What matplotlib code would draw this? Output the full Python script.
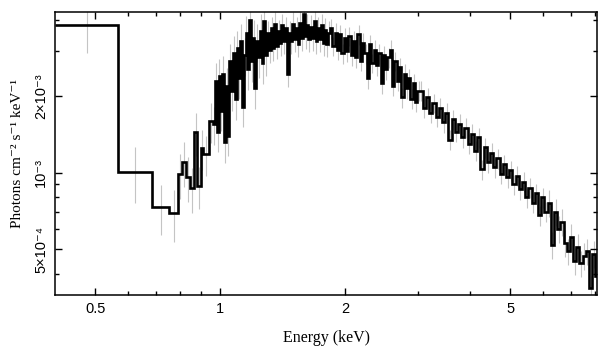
import numpy as np
import matplotlib.pyplot as plt
from matplotlib.ticker import FixedLocator, NullFormatter

# bin edges (keV)
edges_low = [0.400, 0.568, 0.686, 0.754, 0.792, 0.810, 0.828, 0.847, 0.866, 0.880, 0.900, 0.910, 0.941]
edges_1 = [0.962, 0.972, 0.981, 0.991, 1.001, 1.011, 1.021, 1.031, 1.042, 1.052, 1.063, 1.073,
           1.084, 1.095, 1.106, 1.117, 1.128, 1.139, 1.151, 1.162, 1.174, 1.186, 1.197, 1.209,
           1.221, 1.234, 1.246, 1.258, 1.271, 1.284, 1.297, 1.310, 1.323, 1.336, 1.349, 1.363,
           1.376, 1.390, 1.404, 1.418, 1.432, 1.447, 1.461, 1.476, 1.491, 1.506, 1.521, 1.536,
           1.551, 1.567, 1.583, 1.598, 1.614, 1.630, 1.647, 1.663, 1.680, 1.697, 1.714, 1.731,
           1.748, 1.766, 1.783, 1.801, 1.819]
edges_2 = [1.837, 1.861, 1.885, 1.909, 1.933, 1.958, 1.983, 2.009, 2.035, 2.061, 2.087, 2.114,
           2.141, 2.169, 2.197, 2.225, 2.253, 2.282, 2.312, 2.341, 2.371, 2.402, 2.433, 2.464,
           2.496, 2.528, 2.560, 2.593, 2.626, 2.660, 2.694, 2.729, 2.764, 2.800, 2.836, 2.872,
           2.909, 2.946, 2.984]
edges_3 = [3.022, 3.076, 3.131, 3.187, 3.244, 3.302, 3.361, 3.421, 3.482, 3.544, 3.607, 3.672,
           3.738, 3.805, 3.873, 3.942, 4.013, 4.085, 4.158, 4.232, 4.308, 4.385, 4.463, 4.543,
           4.624, 4.707, 4.791, 4.877, 4.964, 5.053, 5.143, 5.235, 5.329, 5.424, 5.521, 5.620,
           5.721, 5.823, 5.927, 6.033, 6.141, 6.251, 6.363, 6.477, 6.593, 6.711, 6.831, 6.953,
           7.077, 7.204, 7.333, 7.464, 7.598, 7.734, 7.872, 8.013, 8.120]

# flux in units of 1e-3 photons cm^-2 s^-1 keV^-1
flux_low = [3.83, 1.01, 0.731, 0.692, 0.985, 1.098, 0.958, 0.868, 1.44, 0.884, 1.246, 1.18, 1.59]
flux_1 = [1.55, 2.30, 1.45, 2.40, 1.75, 2.45, 1.32, 2.20, 1.40, 2.75, 2.10, 2.95, 1.95, 3.10,
          2.35, 3.30, 1.82, 2.90, 3.55, 2.55, 4.00, 2.75, 3.40, 2.15, 3.30, 2.85, 3.60, 2.70,
          3.95, 2.90, 3.55, 3.05, 3.70, 3.10, 3.85, 3.15, 3.60, 3.25, 3.80, 3.30, 3.70, 2.45,
          3.55, 3.30, 3.85, 3.35, 3.70, 3.20, 3.90, 3.40, 4.20, 3.45, 3.80, 3.35, 3.75, 3.40,
          3.95, 3.30, 3.70, 3.35, 3.80, 3.25, 3.65, 3.20, 3.55]
flux_2 = [3.70, 3.15, 3.55, 3.05, 3.50, 2.95, 3.40, 3.00, 3.45, 2.90, 3.30, 2.85, 3.50, 2.75,
          3.25, 2.95, 2.35, 3.20, 2.70, 3.05, 2.65, 2.95, 2.25, 2.90, 2.55, 2.85, 3.05, 2.20,
          2.75, 2.30, 2.60, 1.98, 2.45, 2.15, 2.35, 1.95, 2.25, 1.90, 2.10]
flux_3 = [2.10, 1.80, 1.98, 1.72, 1.88, 1.66, 1.80, 1.58, 1.72, 1.35, 1.62, 1.45, 1.56, 1.38,
          1.50, 1.30, 1.42, 1.22, 1.38, 1.03, 1.26, 1.10, 1.20, 1.05, 1.14, 0.99, 1.08, 0.96,
          1.02, 0.90, 0.97, 0.86, 0.92, 0.80, 0.87, 0.76, 0.83, 0.68, 0.80, 0.70, 0.76, 0.52,
          0.70, 0.60, 0.64, 0.53, 0.49, 0.56, 0.45, 0.51, 0.44, 0.47, 0.49, 0.35, 0.48, 0.39]

# fractional 1-sigma errors
err_low = [0.23, 0.25, 0.22, 0.23, 0.20, 0.20, 0.20, 0.20, 0.19, 0.19, 0.18, 0.18, 0.18]
err_1 = [0.17] * 30 + [0.11] * 35
err_2 = [0.09] * 39
err_3 = [0.09] * 40 + [0.12] * 16

edges = np.array(edges_low + edges_1 + edges_2 + edges_3)
flux = np.array(flux_low + flux_1 + flux_2 + flux_3) * 1e-3
err = np.array(err_low + err_1 + err_2 + err_3) * flux
assert len(edges) == len(flux) + 1 == len(err) + 1
centres = np.sqrt(edges[:-1] * edges[1:])

fig = plt.figure(figsize=(6.09, 3.57), dpi=100)
ax = fig.add_axes([0.0903, 0.174, 0.8907, 0.793])

ax.vlines(centres, flux - err, flux + err, color='#c4c4c4', lw=0.8, zorder=1)
ax.stairs(flux, edges, color='black', lw=1.9, baseline=None, zorder=2)

ax.set_xscale('log')
ax.set_yscale('log')
ax.set_xlim(0.4, 8.1)
ax.set_ylim(3.3e-4, 4.3e-3)

sans = ['Liberation Sans', 'DejaVu Sans']
serif = ['Liberation Serif', 'DejaVu Serif']
ax.xaxis.set_major_locator(FixedLocator([0.5, 1, 2, 5]))
ax.xaxis.set_minor_locator(FixedLocator([0.6, 0.7, 0.8, 0.9, 3, 4, 6, 7, 8]))
ax.xaxis.set_minor_formatter(NullFormatter())
ax.set_xticklabels(['0.5', '1', '2', '5'], family=sans, fontsize=10.5)

ax.yaxis.set_major_locator(FixedLocator([5e-4, 1e-3, 2e-3]))
ax.yaxis.set_minor_locator(FixedLocator([4e-4, 6e-4, 7e-4, 8e-4, 9e-4, 3e-3, 4e-3]))
ax.yaxis.set_minor_formatter(NullFormatter())
ax.set_yticklabels(['5×10⁻⁴', '10⁻³', '2×10⁻³'], family=sans, fontsize=10.5,
                   rotation=90, va='center')

ax.tick_params(which='both', direction='in', top=True, right=True, width=1.0)
ax.tick_params(which='major', length=5, pad=5)
ax.tick_params(which='minor', length=3)
for s in ax.spines.values():
    s.set_linewidth(1.1)

ax.set_xlabel('Energy (keV)', family=serif, fontsize=11.5, labelpad=10)
ax.set_ylabel('Photons cm⁻² s⁻¹ keV⁻¹', family=serif, fontsize=11, labelpad=7)

fig.savefig('out.png', dpi=100)
